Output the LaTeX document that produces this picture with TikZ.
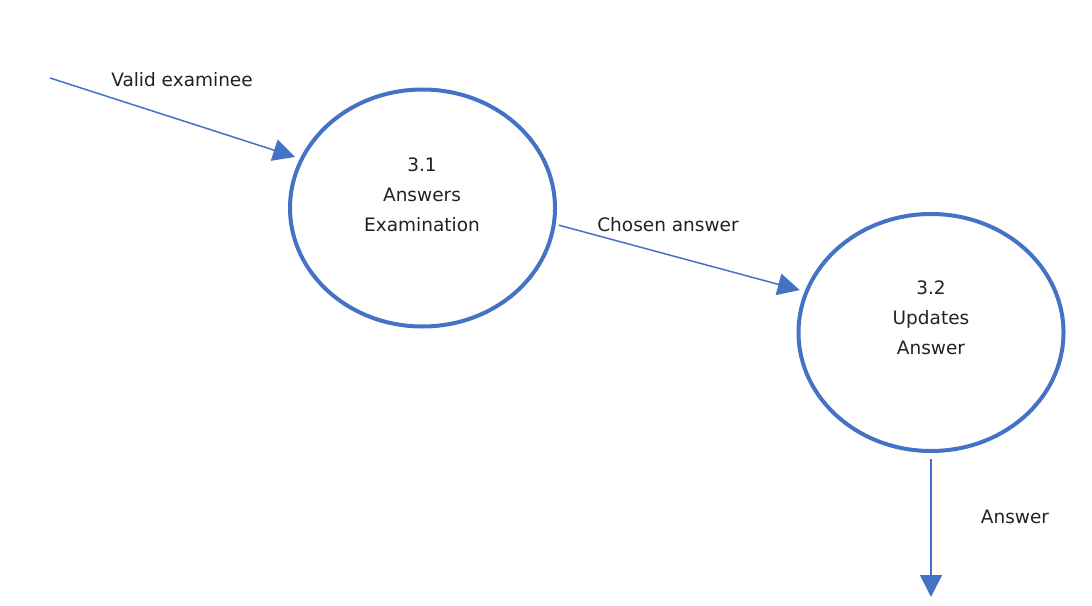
\documentclass[tikz,border=0pt]{standalone}
\usepackage{fontspec}
\setmainfont{DejaVu Sans}
\usetikzlibrary{shapes.geometric,arrows.meta}
\definecolor{dfdblue}{HTML}{4472C4}
\definecolor{txtgray}{HTML}{222222}
\tikzset{
  x=1pt, y=-1pt,
  process/.style={ellipse, draw=dfdblue, line width=4pt, minimum width=265pt, minimum height=237pt, inner sep=0pt},
  ptext/.style={align=center, text=txtgray, font=\fontsize{18.5}{30}\selectfont},
  flowlbl/.style={text=txtgray, font=\fontsize{18.5}{22}\selectfont, inner sep=0pt},
  flow/.style={draw=dfdblue, line width=1.5pt, -{Triangle[length=22pt,width=22pt]}},
}
\begin{document}
\begin{tikzpicture}
\useasboundingbox (0,0) rectangle (1092,605);
\node[process] (e1) at (422.5,208) {};
\node[process] (e2) at (931,332.5) {};
\node[ptext] (t1) at (422,195) {3.1\\Answers\\Examination};
\node[ptext] (t2) at (931,318) {3.2\\Updates\\Answer};
\coordinate (src) at (50,78);
\coordinate (sink) at (931,597);
\draw[flow, shorten >=5pt] (src) -- (e1.158);
\draw[flow, shorten <=3pt, shorten >=5pt] (e1.-7) -- (e2.162);
\draw[flow, shorten <=6pt] (e2.south) -- (sink);
\node[flowlbl] (l1) at (182,80) {Valid examinee};
\node[flowlbl] (l2) at (668,225) {Chosen answer};
\node[flowlbl] (l3) at (1015,517) {Answer};
\end{tikzpicture}
\end{document}
